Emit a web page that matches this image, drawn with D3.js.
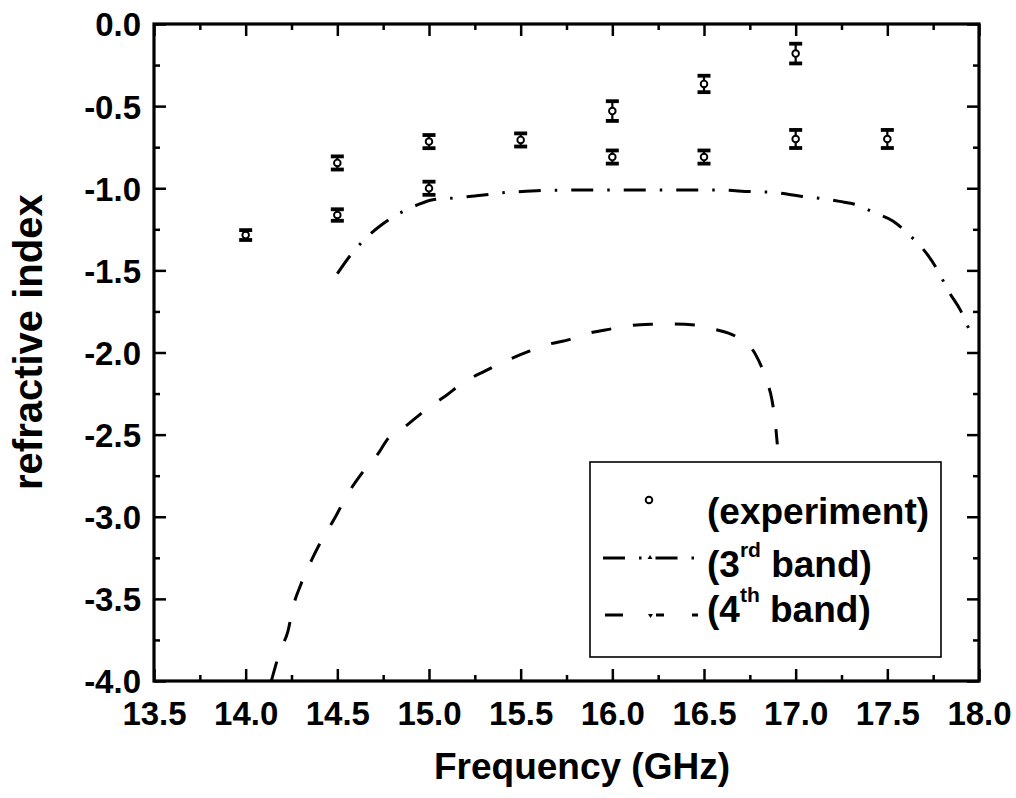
<!DOCTYPE html>
<html>
<head>
<meta charset="utf-8">
<script src="https://cdn.jsdelivr.net/npm/d3@7"></script>
<style>
  html, body { margin: 0; padding: 0; background: #fff; }
  svg { display: block; }
  text { font-family: "Liberation Sans", Arial, sans-serif; font-weight: bold; fill: #000; }
</style>
</head>
<body>
<svg id="chart" width="1016" height="798"></svg>
<script>
// ---- data ----
const xTickValues = [13.5, 14.0, 14.5, 15.0, 15.5, 16.0, 16.5, 17.0, 17.5, 18.0];
const yTickValues = [0.0, -0.5, -1.0, -1.5, -2.0, -2.5, -3.0, -3.5, -4.0];

const expFreq  = [14.0, 14.5, 14.5, 15.0, 15.0, 15.5, 16.0, 16.0, 16.5, 16.5, 17.0, 17.0, 17.5];
const expIndex = [-1.285, -0.846, -1.163, -0.716, -1.0, -0.706, -0.53, -0.81, -0.365, -0.81, -0.18, -0.70, -0.70];
const expErr   = [0.03, 0.04, 0.035, 0.04, 0.04, 0.04, 0.06, 0.04, 0.05, 0.04, 0.06, 0.055, 0.055];

const band3Freq  = [14.50, 14.57, 14.65, 14.74, 14.86, 14.94, 15.02, 15.13, 15.22, 15.31, 15.42, 15.51, 15.65, 15.80, 16.00, 16.30, 16.58, 16.75, 16.87, 17.04, 17.16, 17.24, 17.33, 17.43, 17.53, 17.61, 17.72, 17.78, 17.83, 17.90, 17.95, 17.98];
const band3Index = [-1.52, -1.41, -1.31, -1.224, -1.14, -1.10, -1.07, -1.06, -1.05, -1.04, -1.025, -1.02, -1.012, -1.011, -1.011, -1.011, -1.011, -1.02, -1.025, -1.05, -1.065, -1.08, -1.10, -1.15, -1.20, -1.274, -1.406, -1.51, -1.62, -1.745, -1.863, -1.90];

const band4Freq  = [14.14, 14.19, 14.23, 14.26, 14.30, 14.36, 14.41, 14.49, 14.55, 14.64, 14.73, 14.77, 14.86, 14.97, 15.03, 15.09, 15.18, 15.31, 15.41, 15.54, 15.64, 15.77, 15.87, 16.00, 16.10, 16.23, 16.32, 16.46, 16.55, 16.69, 16.78, 16.84, 16.87, 16.89, 16.90];
const band4Index = [-4.0, -3.81, -3.70, -3.543, -3.415, -3.263, -3.152, -3.0, -2.874, -2.726, -2.604, -2.533, -2.46, -2.36, -2.31, -2.265, -2.188, -2.11, -2.056, -1.995, -1.954, -1.92, -1.883, -1.855, -1.835, -1.828, -1.826, -1.834, -1.857, -1.914, -2.01, -2.167, -2.285, -2.44, -2.56];

const legendLabels = ["(experiment)", "(3", "(4"];
const legendSups = ["", "rd", "th"];
const legendTails = ["", " band)", " band)"];

// ---- layout ----
const L = 154, R = 979, T = 24, B = 681;
const svg = d3.select("#chart");

const x = d3.scaleLinear().domain([13.5, 18.0]).range([L, R]);
const y = d3.scaleLinear().domain([-4.0, 0.0]).range([B, T]);

const minorX = d3.range(13.75, 18.0, 0.5);
const minorY = d3.range(-3.75, 0, 0.5);
const fmt = d => d.toFixed(1);

function styleAxis(g) {
  g.select(".domain").remove();
  g.selectAll(".tick line").attr("stroke", "#000").attr("stroke-width", 2.5);
}
function styleLabels(g) {
  g.selectAll(".tick text").style("font-size", "33px")
    .style("font-family", "Liberation Sans, Arial, sans-serif").style("font-weight", "bold").attr("fill", "#000");
}

// major ticks
svg.append("g").attr("transform", `translate(0,${B})`)
  .call(d3.axisBottom(x).tickValues(xTickValues).tickSize(-12).tickSizeOuter(0).tickFormat(fmt))
  .call(styleAxis).call(styleLabels)
  .call(g => g.selectAll(".tick text").attr("y", 44).attr("dy", 0));
svg.append("g").attr("transform", `translate(0,${T})`)
  .call(d3.axisTop(x).tickValues(xTickValues).tickSize(-12).tickSizeOuter(0).tickFormat(""))
  .call(styleAxis);
svg.append("g").attr("transform", `translate(${L},0)`)
  .call(d3.axisLeft(y).tickValues(yTickValues).tickSize(-12).tickSizeOuter(0).tickFormat(fmt))
  .call(styleAxis).call(styleLabels)
  .call(g => g.selectAll(".tick text").attr("x", -13).attr("dy", "0.36em"));
svg.append("g").attr("transform", `translate(${R},0)`)
  .call(d3.axisRight(y).tickValues(yTickValues).tickSize(-12).tickSizeOuter(0).tickFormat(""))
  .call(styleAxis);

// minor ticks
svg.append("g").attr("transform", `translate(0,${B})`)
  .call(d3.axisBottom(x).tickValues(minorX).tickSize(-6).tickSizeOuter(0).tickFormat("")).call(styleAxis);
svg.append("g").attr("transform", `translate(0,${T})`)
  .call(d3.axisTop(x).tickValues(minorX).tickSize(-6).tickSizeOuter(0).tickFormat("")).call(styleAxis);
svg.append("g").attr("transform", `translate(${L},0)`)
  .call(d3.axisLeft(y).tickValues(minorY).tickSize(-6).tickSizeOuter(0).tickFormat("")).call(styleAxis);
svg.append("g").attr("transform", `translate(${R},0)`)
  .call(d3.axisRight(y).tickValues(minorY).tickSize(-6).tickSizeOuter(0).tickFormat("")).call(styleAxis);

// frame
svg.append("rect").attr("x", L).attr("y", T).attr("width", R - L).attr("height", B - T)
  .attr("fill", "none").attr("stroke", "#000").attr("stroke-width", 3.2);

// axis titles
svg.append("text").attr("x", 582).attr("y", 779).attr("text-anchor", "middle")
  .style("font-size", "37px").text("Frequency (GHz)");
svg.append("text").attr("transform", "translate(42,490) rotate(-90)").attr("text-anchor", "start")
  .style("font-size", "40px").text("refractive index");

// curves
svg.append("clipPath").attr("id", "plotclip").append("rect")
  .attr("x", L).attr("y", T).attr("width", R - L).attr("height", B - T);

const line = d3.line().x(d => x(d[0])).y(d => y(d[1])).curve(d3.curveMonotoneX);

const band3 = band3Freq.map((f, i) => [f, band3Index[i]]);
const band4 = band4Freq.map((f, i) => [f, band4Index[i]]);

svg.append("path").attr("d", line(band3)).attr("fill", "none").attr("stroke", "#000")
  .attr("stroke-width", 3).attr("stroke-dasharray", "22,14,2.5,14").attr("clip-path", "url(#plotclip)");
svg.append("path").attr("d", line(band4)).attr("fill", "none").attr("stroke", "#000")
  .attr("stroke-width", 3).attr("stroke-dasharray", "20,22").attr("clip-path", "url(#plotclip)");

// experimental points with error bars
const exp = expFreq.map((f, i) => ({ f, n: expIndex[i], e: expErr[i] }));
const eg = svg.append("g");
const pts = eg.selectAll("g.pt").data(exp).join("g").attr("class", "pt");
pts.append("line").attr("x1", d => x(d.f)).attr("x2", d => x(d.f))
  .attr("y1", d => y(d.n + d.e)).attr("y2", d => y(d.n - d.e))
  .attr("stroke", "#000").attr("stroke-width", 2.2);
pts.append("line").attr("x1", d => x(d.f) - 6.5).attr("x2", d => x(d.f) + 6.5)
  .attr("y1", d => y(d.n + d.e)).attr("y2", d => y(d.n + d.e))
  .attr("stroke", "#000").attr("stroke-width", 3.8);
pts.append("line").attr("x1", d => x(d.f) - 6.5).attr("x2", d => x(d.f) + 6.5)
  .attr("y1", d => y(d.n - d.e)).attr("y2", d => y(d.n - d.e))
  .attr("stroke", "#000").attr("stroke-width", 3.8);
pts.append("circle").attr("cx", d => x(d.f)).attr("cy", d => y(d.n)).attr("r", 3.3)
  .attr("fill", "#fff").attr("stroke", "#000").attr("stroke-width", 1.9);

// legend
const lg = svg.append("g");
lg.append("rect").attr("x", 590).attr("y", 462).attr("width", 351).attr("height", 195)
  .attr("fill", "#fff").attr("stroke", "#000").attr("stroke-width", 1.6);
lg.append("circle").attr("cx", 649).attr("cy", 500).attr("r", 3.3)
  .attr("fill", "#fff").attr("stroke", "#000").attr("stroke-width", 1.9);
lg.append("line").attr("x1", 603).attr("x2", 695).attr("y1", 558).attr("y2", 558)
  .attr("stroke", "#000").attr("stroke-width", 3).attr("stroke-dasharray", "22,14,2.5,14");
lg.append("path").attr("d", "M650,555 L652.5,559 L647.5,559 Z").attr("fill", "#000");
lg.append("line").attr("x1", 605).attr("x2", 698).attr("y1", 615).attr("y2", 615)
  .attr("stroke", "#000").attr("stroke-width", 3).attr("stroke-dasharray", "18,33,8,28,6");
lg.append("path").attr("d", "M648,614 L653,614 L650.5,618 Z").attr("fill", "#000");

const legendBaselines = [524, 577, 622];
legendLabels.forEach((lab, i) => {
  const t = lg.append("text").attr("x", 707).attr("y", legendBaselines[i]).style("font-size", "37px");
  t.append("tspan").text(lab);
  if (legendSups[i]) {
    t.append("tspan").attr("dy", -20).style("font-size", "21px").text(legendSups[i]);
    t.append("tspan").attr("dy", 20).text(legendTails[i]);
  }
});
</script>
</body>
</html>
